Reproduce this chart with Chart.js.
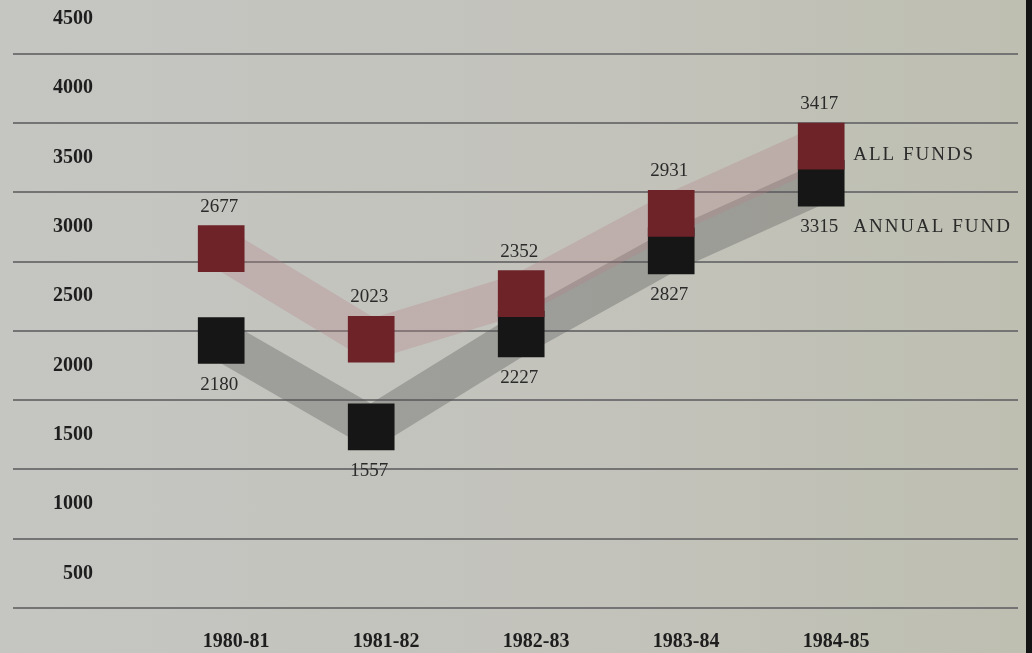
<!DOCTYPE html>
<html><head><meta charset="utf-8">
<script src="https://cdn.jsdelivr.net/npm/chart.js@4"></script>
<style>
html,body{margin:0;padding:0;}
body{width:1032px;height:653px;overflow:hidden;position:relative;
 background:linear-gradient(90deg,#c5c5c2 0%,#c3c3bc 55%,#bebfb1 100%);}
#edge{position:absolute;right:0;top:0;width:6px;height:653px;background:#141414;}
canvas{position:absolute;left:0;top:0;}
</style></head><body>
<canvas id="c" width="1032" height="653"></canvas>
<div id="edge"></div>
<script>
// ---- data ----
const years = ['1980-81', '1981-82', '1982-83', '1983-84', '1984-85'];
const allFunds = [2677, 2023, 2352, 2931, 3417];
const annualFund = [2180, 1557, 2227, 2827, 3315];
const yTicks = [500, 1000, 1500, 2000, 2500, 3000, 3500, 4000, 4500];
const seriesNames = ['ALL FUNDS', 'ANNUAL FUND'];

const pts = arr => arr.map((v, i) => ({x: i, y: v}));
const FONT = 'Liberation Serif';

// red series is drawn raised so its box sits on top of its value
const raisePlugin = {
  id: 'raise',
  beforeDatasetDraw(chart, args) {
    const r = chart.data.datasets[args.index].raise;
    if (r) { chart.ctx.save(); chart.ctx.translate(0, -r); }
  },
  afterDatasetDraw(chart, args) {
    const r = chart.data.datasets[args.index].raise;
    if (r) chart.ctx.restore();
  }
};

const labelPlugin = {
  id: 'valueLabels',
  afterDatasetsDraw(chart) {
    const ctx = chart.ctx;
    chart.data.datasets.forEach((ds, di) => {
      if (!ds.valueLabels) return;
      const meta = chart.getDatasetMeta(di);
      const raise = ds.raise || 0;
      ctx.save();
      ctx.font = '19px "' + FONT + '"';
      ctx.fillStyle = '#2a2a2a';
      ctx.textAlign = 'center';
      ctx.textBaseline = 'middle';
      meta.data.forEach((pt, i) => {
        ctx.fillText(String(ds.data[i].y), pt.x - 2, pt.y - raise + ds.labelDy);
      });
      const last = meta.data[meta.data.length - 1];
      ctx.textAlign = 'left';
      ctx.letterSpacing = '2px';
      ctx.fillText(ds.label, last.x + 32, last.y - raise + ds.nameDy);
      ctx.restore();
    });
  }
};

new Chart(document.getElementById('c'), {
  type: 'line',
  data: {
    datasets: [
      { label: seriesNames[0], data: pts(allFunds), showLine: false,
        pointStyle: 'rect', pointRadius: 33, pointHoverRadius: 33,
        pointBackgroundColor: '#6d2328', pointBorderWidth: 0,
        raise: 23, valueLabels: true, labelDy: -42, nameDy: 9 },
      { label: seriesNames[1], data: pts(annualFund), showLine: false,
        pointStyle: 'rect', pointRadius: 33, pointHoverRadius: 33,
        pointBackgroundColor: '#161616', pointBorderWidth: 0,
        valueLabels: true, labelDy: 44, nameDy: 44 },
      { label: seriesNames[0] + ' band', data: pts(allFunds), pointRadius: 0,
        borderWidth: 40, borderColor: 'rgba(180,128,136,0.30)',
        borderJoinStyle: 'bevel', borderCapStyle: 'butt', raise: 23 },
      { label: seriesNames[1] + ' band', data: pts(annualFund), pointRadius: 0,
        borderWidth: 40, borderColor: 'rgba(85,85,85,0.34)',
        borderJoinStyle: 'bevel', borderCapStyle: 'butt' }
    ]
  },
  options: {
    responsive: false,
    animation: false,
    events: [],
    layout: { autoPadding: false, padding: { left: 13, right: 14, top: 19, bottom: 0 } },
    plugins: { legend: { display: false }, tooltip: { enabled: false } },
    scales: {
      x: {
        type: 'linear', min: -1.388, max: 5.312,
        afterBuildTicks: axis => { axis.ticks = years.map((_, i) => ({value: i})); },
        afterFit: axis => { axis.height = 45; },
        grid: { display: false, drawTicks: false },
        border: { display: false },
        ticks: {
          callback: v => years[v] ?? '',
          font: { family: FONT, size: 20, weight: 'bold' },
          color: '#1e1e1e', padding: 22, labelOffset: 15,
          maxRotation: 0, autoSkip: false
        }
      },
      y: {
        type: 'linear', min: 250, max: 4500,
        afterBuildTicks: axis => { axis.ticks = yTicks.map(v => ({value: v})); },
        afterFit: axis => { axis.width = 0; axis.paddingTop = 0; axis.paddingBottom = 0; },
        grid: { offset: true, color: '#747474', lineWidth: 2, drawTicks: false },
        border: { display: false },
        ticks: {
          callback: v => String(v),
          mirror: true, crossAlign: 'far', padding: 40,
          font: { family: FONT, size: 20, weight: 'bold' },
          color: '#1e1e1e'
        }
      }
    }
  },
  plugins: [raisePlugin, labelPlugin]
});
</script>
</body></html>
